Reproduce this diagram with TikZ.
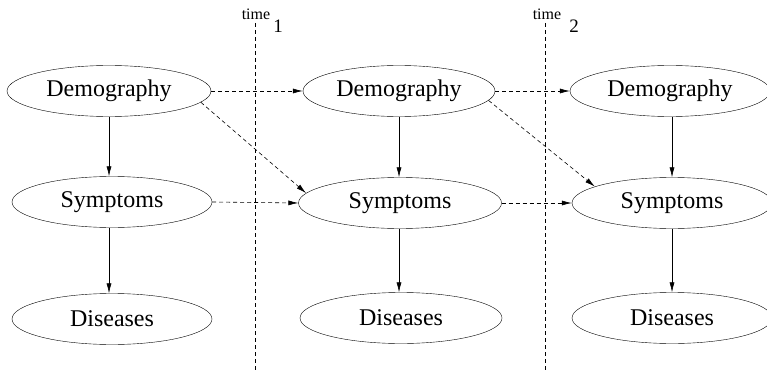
\documentclass[tikz,border=0pt]{standalone}
\usepackage{fontspec}
\setmainfont{Liberation Serif}
\usetikzlibrary{shapes.geometric,arrows.meta}
\begin{document}
\begin{tikzpicture}[x=1pt,y=-1pt,
  ev/.style={draw,ellipse,inner sep=0pt,minimum width=200pt,minimum height=51pt,font=\fontsize{24}{28}\selectfont},
  solidarr/.style={-{Latex[length=10pt,width=5pt]},line width=0.6pt},
  dasharr/.style={-{Latex[length=10pt,width=5pt]},line width=0.6pt,dash pattern=on 4pt off 3pt},
  timeline/.style={line width=0.6pt,dash pattern=on 4pt off 3pt},
  tlab/.style={font=\fontsize{16}{18}\selectfont,inner sep=0pt},
  tsub/.style={font=\fontsize{19}{22}\selectfont,inner sep=0pt}]
\useasboundingbox (0,0) rectangle (767,377);
% time lines
\coordinate (t1top) at (255,23);
\coordinate (t1bot) at (255,371);
\coordinate (t2top) at (545,23);
\coordinate (t2bot) at (545,371);
\draw[timeline] (t1top) -- (t1bot);
\draw[timeline] (t2top) -- (t2bot);
\node[tlab,anchor=base] (time1) at (256,20) {time};
\node[tsub,anchor=base] (sub1) at (278,33) {1};
\node[tlab,anchor=base] (time2) at (547,20) {time};
\node[tsub,anchor=base] (sub2) at (574,33) {2};
% nodes
\node[ev,minimum width=204pt] (d1) at (109,91) {Demography};
\node[ev] (s1) at (112,202) {Symptoms};
\node[ev] (x1) at (112,319) {Diseases};
\node[ev,minimum width=192pt] (d2) at (399,91) {Demography};
\node[ev,minimum width=203pt] (s2) at (400,203) {Symptoms};
\node[ev,minimum width=202pt] (x2) at (401,318) {Diseases};
\node[ev] (d3) at (670,91) {Demography};
\node[ev] (s3) at (672,203) {Symptoms};
\node[ev] (x3) at (672,318) {Diseases};
% vertical arrows
\draw[solidarr] (d1.south) -- (s1.north -| d1.south);
\draw[solidarr] (s1.south -| d1.south) -- (x1.north -| d1.south);
\draw[solidarr] (d2.south) -- (s2.north -| d2.south);
\draw[solidarr] (s2.south -| d2.south) -- (x2.north -| d2.south);
\draw[solidarr] (d3.south -| s3.south) -- (s3.north);
\draw[solidarr] (s3.south) -- (x3.north);
% dashed arrows
\draw[dasharr] (d1.east) -- (d2.west);
\draw[dasharr] (s1.east) -- (s2.west);
\draw[dasharr] (d1.-7) -- (s2.174);
\draw[dasharr] (d2.east) -- (d3.west);
\draw[dasharr] (s2.east) -- (s3.west);
\draw[dasharr] (d2.-6) -- (s3.168);
\end{tikzpicture}
\end{document}
